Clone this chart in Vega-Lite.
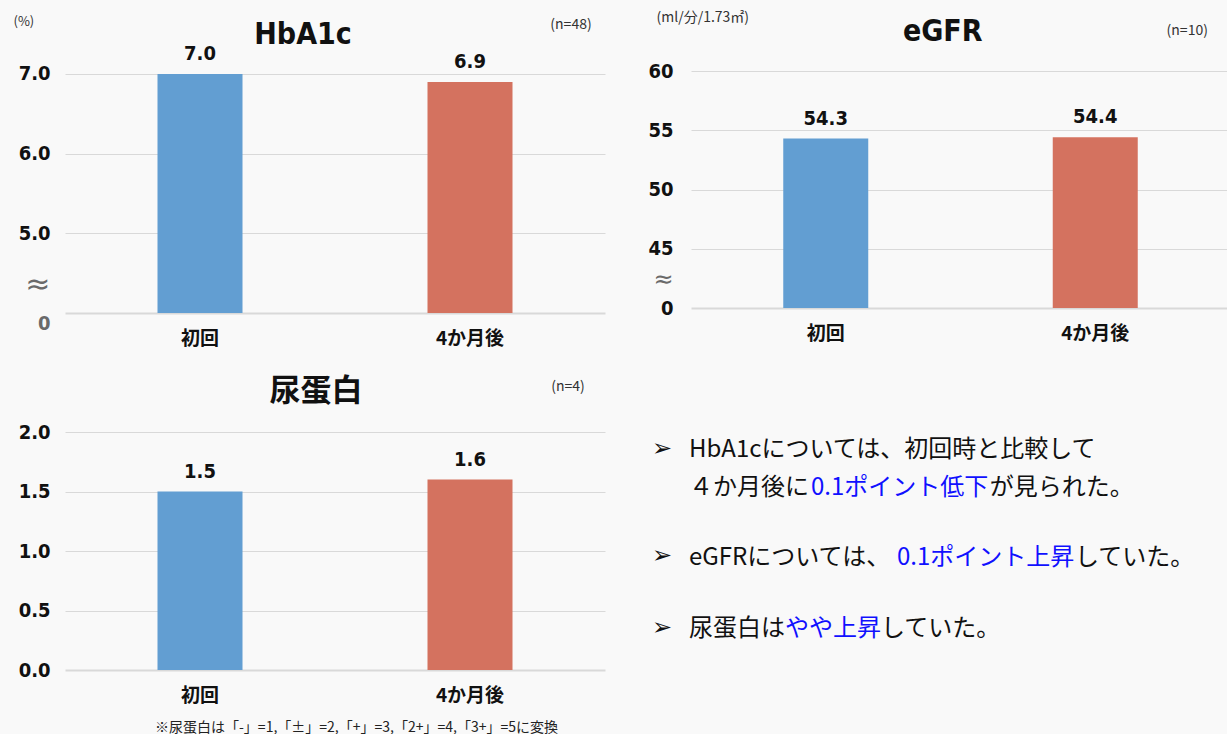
{
  "$schema": "https://vega.github.io/schema/vega-lite/v6.json",
  "background": "#f9f9f9",
  "padding": {"left": 13, "top": 10, "right": 0, "bottom": 0},
  "config": {
    "view": {"stroke": null},
    "axis": {"domain": false, "ticks": false, "gridColor": "#d9d9d9", "labelColor": "#111111", "labelOverlap": false}
  },
  "bounds": "flush",
  "columns": 2,
  "spacing": {"row": 119, "column": 86},
  "concat": [
    {
      "width": 540,
      "height": 242,
      "data": {"values": [{"時期": "初回", "値": 7.0}, {"時期": "4か月後", "値": 6.9}]},
      "layer": [
        {
          "mark": {"type": "bar", "size": 85},
          "encoding": {
            "x": {"field": "時期", "type": "nominal", "sort": ["初回", "4か月後"], "scale": {"paddingInner": 0, "paddingOuter": 0},
              "axis": {"title": null, "labelAngle": 0, "labelFont": "Noto Sans CJK JP", "labelFontWeight": "bold", "labelFontSize": 19, "labelPadding": 16, "grid": false}},
            "y": {"field": "値", "type": "quantitative", "scale": {"domain": [4, 7.0375], "nice": false, "zero": false},
              "axis": {
                "values": [4, 4.36, 5, 6, 7],
                "labelExpr": "datum.value == 4 ? '0' : (datum.value < 4.5 ? '≈' : format(datum.value, '.1f'))",
                "labelFont": {"condition": {"test": "datum.value > 4.1 && datum.value < 4.5", "value": "DejaVu Sans"}, "value": "DejaVu Sans Condensed"},
                "labelFontWeight": {"condition": {"test": "datum.value > 4.1 && datum.value < 4.5", "value": "normal"}, "value": "bold"},
                "labelFontSize": {"condition": {"test": "datum.value > 4.1 && datum.value < 4.5", "value": 30}, "value": 20},
                "labelColor": {"condition": {"test": "datum.value < 4.5", "value": "#6a6a6a"}, "value": "#111111"},
                "labelBaseline": {"condition": {"test": "datum.value == 4", "value": "top"}, "value": "middle"},
                "gridOpacity": {"condition": {"test": "datum.value > 4.1 && datum.value < 4.5", "value": 0}, "value": 1},
                "gridWidth": {"condition": {"test": "datum.value == 4", "value": 2}, "value": 1},
                "labelPadding": 15,
                "title": "(%)", "titleAngle": 0, "titleAlign": "left", "titleBaseline": "alphabetic",
                "titleX": -52, "titleY": -46, "titleFontSize": 13, "titleFontWeight": "normal", "titleFont": "Noto Sans CJK JP", "titleColor": "#333333"
              }},
            "y2": {"datum": 4},
            "color": {"field": "時期", "type": "nominal", "scale": {"domain": ["初回", "4か月後"], "range": ["#629ed2", "#d4725f"]}, "legend": null}
          }
        },
        {
          "mark": {"type": "text", "baseline": "alphabetic", "dy": -14, "font": "DejaVu Sans Condensed", "fontWeight": "bold", "fontSize": 20, "color": "#111111"},
          "encoding": {
            "x": {"field": "時期", "type": "nominal", "sort": ["初回", "4か月後"]},
            "y": {"field": "値", "type": "quantitative"},
            "text": {"field": "値", "type": "quantitative", "format": ".1f"}
          }
        },
        {
          "data": {"values": [{}]},
          "mark": {"type": "text", "text": "HbA1c", "baseline": "alphabetic", "align": "center", "dx": 103, "font": "DejaVu Sans Condensed", "fontWeight": "bold", "fontSize": 30, "color": "#111111"},
          "encoding": {"x": {"datum": "初回"}, "y": {"datum": 7.375}}
        },
        {
          "data": {"values": [{}]},
          "mark": {"type": "text", "text": "(n=48)", "baseline": "alphabetic", "align": "center", "dx": 101, "font": "Noto Sans CJK JP", "fontSize": 14, "color": "#333333"},
          "encoding": {"x": {"datum": "4か月後"}, "y": {"datum": 7.5625}}
        }
      ]
    },
    {
      "width": 539,
      "height": 237,
      "data": {"values": [{"時期": "初回", "値": 54.3}, {"時期": "4か月後", "値": 54.4}]},
      "layer": [
        {
          "mark": {"type": "bar", "size": 85},
          "encoding": {
            "x": {"field": "時期", "type": "nominal", "sort": ["初回", "4か月後"], "scale": {"paddingInner": 0, "paddingOuter": 0},
              "axis": {"title": null, "labelAngle": 0, "labelFont": "Noto Sans CJK JP", "labelFontWeight": "bold", "labelFontSize": 19, "labelPadding": 16, "grid": false}},
            "y": {"field": "値", "type": "quantitative", "scale": {"domain": [40, 60], "nice": false, "zero": false},
              "axis": {
                "values": [40, 42.4, 45, 50, 55, 60],
                "labelExpr": "datum.value == 40 ? '0' : (datum.value < 43 ? '≈' : format(datum.value, 'd'))",
                "labelFont": {"condition": {"test": "datum.value > 40.5 && datum.value < 43", "value": "DejaVu Sans"}, "value": "DejaVu Sans Condensed"},
                "labelFontWeight": {"condition": {"test": "datum.value > 40.5 && datum.value < 43", "value": "normal"}, "value": "bold"},
                "labelFontSize": {"condition": {"test": "datum.value > 40.5 && datum.value < 43", "value": 24}, "value": 20},
                "labelColor": {"condition": {"test": "datum.value > 40.5 && datum.value < 43", "value": "#6a6a6a"}, "value": "#111111"},
                "gridOpacity": {"condition": {"test": "datum.value > 40.5 && datum.value < 43", "value": 0}, "value": 1},
                "gridWidth": {"condition": {"test": "datum.value == 40", "value": 2}, "value": 1},
                "labelPadding": 18,
                "title": "(ml/分/1.73㎡)", "titleAngle": 0, "titleAlign": "left", "titleBaseline": "alphabetic",
                "titleX": -35, "titleY": -50, "titleFontSize": 14, "titleFontWeight": "normal", "titleFont": "Noto Sans CJK JP", "titleColor": "#333333"
              }},
            "y2": {"datum": 40},
            "color": {"field": "時期", "type": "nominal", "scale": {"domain": ["初回", "4か月後"], "range": ["#629ed2", "#d4725f"]}, "legend": null}
          }
        },
        {
          "mark": {"type": "text", "baseline": "alphabetic", "dy": -14, "font": "DejaVu Sans Condensed", "fontWeight": "bold", "fontSize": 20, "color": "#111111"},
          "encoding": {
            "x": {"field": "時期", "type": "nominal", "sort": ["初回", "4か月後"]},
            "y": {"field": "値", "type": "quantitative"},
            "text": {"field": "値", "type": "quantitative", "format": ".1f"}
          }
        },
        {
          "data": {"values": [{}]},
          "mark": {"type": "text", "text": "eGFR", "baseline": "alphabetic", "align": "center", "dx": 117, "font": "DejaVu Sans Condensed", "fontWeight": "bold", "fontSize": 30, "color": "#111111"},
          "encoding": {"x": {"datum": "初回"}, "y": {"datum": 62.53}}
        },
        {
          "data": {"values": [{}]},
          "mark": {"type": "text", "text": "(n=10)", "baseline": "alphabetic", "align": "center", "dx": 92, "font": "Noto Sans CJK JP", "fontSize": 14, "color": "#333333"},
          "encoding": {"x": {"datum": "4か月後"}, "y": {"datum": 63.04}}
        }
      ]
    },
    {
      "width": 540,
      "height": 238,
      "data": {"values": [{"時期": "初回", "値": 1.5}, {"時期": "4か月後", "値": 1.6}]},
      "layer": [
        {
          "mark": {"type": "bar", "size": 85},
          "encoding": {
            "x": {"field": "時期", "type": "nominal", "sort": ["初回", "4か月後"], "scale": {"paddingInner": 0, "paddingOuter": 0},
              "axis": {"labelAngle": 0, "labelFont": "Noto Sans CJK JP", "labelFontWeight": "bold", "labelFontSize": 19, "labelPadding": 16, "grid": false,
                "title": "※尿蛋白は「-」=1,「±」=2,「+」=3,「2+」=4,「3+」=5に変換", "titleFont": "Noto Sans CJK JP", "titleFontSize": 14, "titleFontWeight": "normal", "titleColor": "#222222",
                "titleX": 291, "titleY": 57, "titleBaseline": "middle", "titleAlign": "center"}},
            "y": {"field": "値", "type": "quantitative", "scale": {"domain": [0, 2], "nice": false},
              "axis": {
                "values": [0, 0.5, 1, 1.5, 2],
                "format": ".1f",
                "labelFont": "DejaVu Sans Condensed", "labelFontWeight": "bold", "labelFontSize": 20,
                "gridWidth": {"condition": {"test": "datum.value == 0", "value": 2}, "value": 1},
                "labelPadding": 15,
                "title": null
              }},
            "color": {"field": "時期", "type": "nominal", "scale": {"domain": ["初回", "4か月後"], "range": ["#629ed2", "#d4725f"]}, "legend": null}
          }
        },
        {
          "mark": {"type": "text", "baseline": "alphabetic", "dy": -14, "font": "DejaVu Sans Condensed", "fontWeight": "bold", "fontSize": 20, "color": "#111111"},
          "encoding": {
            "x": {"field": "時期", "type": "nominal", "sort": ["初回", "4か月後"]},
            "y": {"field": "値", "type": "quantitative"},
            "text": {"field": "値", "type": "quantitative", "format": ".1f"}
          }
        },
        {
          "data": {"values": [{}]},
          "mark": {"type": "text", "text": "尿蛋白", "baseline": "alphabetic", "align": "center", "dx": 116, "font": "Noto Sans CJK JP", "fontWeight": "bold", "fontSize": 31, "color": "#111111"},
          "encoding": {"x": {"datum": "初回"}, "y": {"datum": 2.26}}
        },
        {
          "data": {"values": [{}]},
          "mark": {"type": "text", "text": "(n=4)", "baseline": "alphabetic", "align": "center", "dx": 98, "font": "Noto Sans CJK JP", "fontSize": 14, "color": "#333333"},
          "encoding": {"x": {"datum": "4か月後"}, "y": {"datum": 2.345}}
        }
      ]
    },
    {
      "width": 539,
      "height": 238,
      "data": {"values": [{}]},
      "encoding": {
        "x": {"type": "quantitative", "scale": {"domain": [0, 22.458], "nice": false, "zero": false}, "axis": null},
        "y": {"type": "quantitative", "scale": {"domain": [0, 6.263], "nice": false, "zero": false, "reverse": true}, "axis": null}
      },
      "layer": [
        {"mark": {"type": "text", "text": "➢", "align": "left", "baseline": "alphabetic", "font": "DejaVu Sans", "fontSize": 24, "color": "#111111"},
          "encoding": {"x": {"datum": -1.625}, "y": {"datum": 0.62}}},
        {"mark": {"type": "text", "text": "➢", "align": "left", "baseline": "alphabetic", "font": "DejaVu Sans", "fontSize": 24, "color": "#111111"},
          "encoding": {"x": {"datum": -1.625}, "y": {"datum": 3.46}}},
        {"mark": {"type": "text", "text": "➢", "align": "left", "baseline": "alphabetic", "font": "DejaVu Sans", "fontSize": 24, "color": "#111111"},
          "encoding": {"x": {"datum": -1.625}, "y": {"datum": 5.33}}},
        {"mark": {"type": "text", "text": "HbA1cについては、初回時と比較して", "align": "left", "baseline": "alphabetic", "font": "Noto Sans CJK JP", "fontSize": 24, "color": "#111111"},
          "encoding": {"x": {"datum": -0.083}, "y": {"datum": 0.658}}},
        {"mark": {"type": "text", "text": "４か月後に", "align": "left", "baseline": "alphabetic", "font": "Noto Sans CJK JP", "fontSize": 24, "color": "#111111"},
          "encoding": {"x": {"datum": -0.083}, "y": {"datum": 1.658}}},
        {"mark": {"type": "text", "text": "0.1ポイント低下", "align": "left", "baseline": "alphabetic", "font": "Noto Sans CJK JP", "fontSize": 24, "color": "#1010ff"},
          "encoding": {"x": {"datum": 5.0}, "y": {"datum": 1.658}}},
        {"mark": {"type": "text", "text": "が見られた。", "align": "left", "baseline": "alphabetic", "font": "Noto Sans CJK JP", "fontSize": 24, "color": "#111111"},
          "encoding": {"x": {"datum": 12.45}, "y": {"datum": 1.658}}},
        {"mark": {"type": "text", "text": "eGFRについては、", "align": "left", "baseline": "alphabetic", "font": "Noto Sans CJK JP", "fontSize": 24, "color": "#111111"},
          "encoding": {"x": {"datum": -0.083}, "y": {"datum": 3.5}}},
        {"mark": {"type": "text", "text": "0.1ポイント上昇", "align": "left", "baseline": "alphabetic", "font": "Noto Sans CJK JP", "fontSize": 24, "color": "#1010ff"},
          "encoding": {"x": {"datum": 8.58}, "y": {"datum": 3.5}}},
        {"mark": {"type": "text", "text": "していた。", "align": "left", "baseline": "alphabetic", "font": "Noto Sans CJK JP", "fontSize": 24, "color": "#111111"},
          "encoding": {"x": {"datum": 16.0}, "y": {"datum": 3.5}}},
        {"mark": {"type": "text", "text": "尿蛋白は", "align": "left", "baseline": "alphabetic", "font": "Noto Sans CJK JP", "fontSize": 24, "color": "#111111"},
          "encoding": {"x": {"datum": -0.083}, "y": {"datum": 5.368}}},
        {"mark": {"type": "text", "text": "やや上昇", "align": "left", "baseline": "alphabetic", "font": "Noto Sans CJK JP", "fontSize": 24, "color": "#1010ff"},
          "encoding": {"x": {"datum": 3.917}, "y": {"datum": 5.368}}},
        {"mark": {"type": "text", "text": "していた。", "align": "left", "baseline": "alphabetic", "font": "Noto Sans CJK JP", "fontSize": 24, "color": "#111111"},
          "encoding": {"x": {"datum": 7.917}, "y": {"datum": 5.368}}}
      ]
    }
  ]
}
